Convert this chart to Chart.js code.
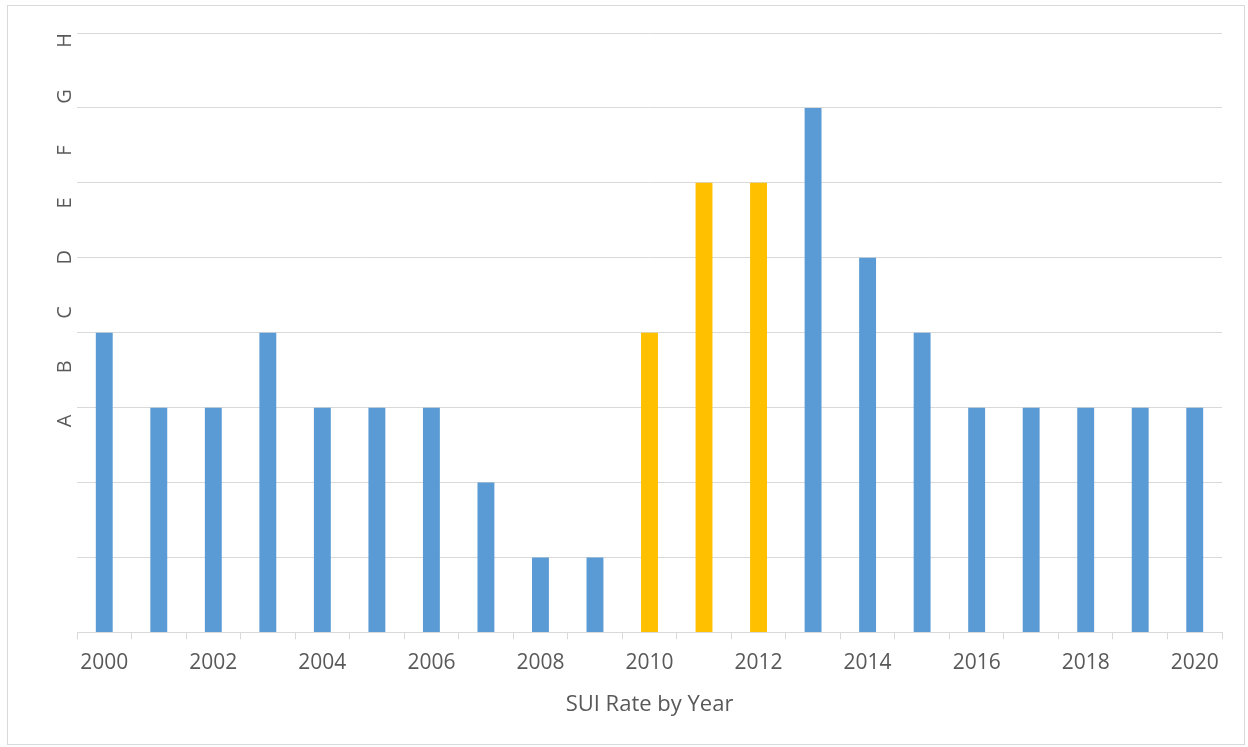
<!DOCTYPE html>
<html>
<head>
<meta charset="utf-8">
<script src="https://cdn.jsdelivr.net/npm/chart.js@4/dist/chart.umd.min.js"></script>
<style>
  html, body { margin: 0; padding: 0; background: #fff; }
  #wrap { position: relative; width: 1248px; height: 747px; }
  #frame { position: absolute; left: 7px; top: 5px; width: 1238px; height: 740px; border: 1px solid #d9d9d9; box-sizing: border-box; pointer-events: none; }
</style>
</head>
<body>
<div id="wrap">
  <canvas id="chart" width="1248" height="747"></canvas>
  <div id="frame"></div>
</div>
<script>
// years on the x axis
const years = ['2000', '2001', '2002', '2003', '2004', '2005', '2006', '2007', '2008', '2009', '2010',
  '2011', '2012', '2013', '2014', '2015', '2016', '2017', '2018', '2019', '2020'];
// rate level per year (grid steps)
const rates = [4, 3, 3, 4, 3, 3, 3, 2, 1, 1, 4, 6, 6, 7, 5, 4, 3, 3, 3, 3, 3];
// years highlighted in yellow
const highlightYears = ['2010', '2011', '2012'];
// letters written up the y axis
const gradeLetters = ['A', 'B', 'C', 'D', 'E', 'F', 'G', 'H'];

const blue = '#5b9bd5';
const yellow = '#ffc000';
const textColor = '#595959';
const gridColor = '#d9d9d9';

const barColors = years.map(y => highlightYears.includes(y) ? yellow : blue);

Chart.defaults.font.family = "'Open Sans', 'Noto Sans', sans-serif";
Chart.defaults.color = textColor;

new Chart(document.getElementById('chart').getContext('2d'), {
  type: 'bar',
  data: {
    labels: years,
    datasets: [{
      data: rates,
      backgroundColor: barColors,
      borderWidth: 0,
      categoryPercentage: 1,
      barPercentage: 0.31
    }]
  },
  options: {
    responsive: false,
    animation: false,
    layout: { padding: { left: 53, right: 26, top: 33, bottom: 29 } },
    plugins: {
      legend: { display: false },
      tooltip: { enabled: false }
    },
    scales: {
      x: {
        offset: true,
        grid: {
          offset: true,
          drawOnChartArea: false,
          drawTicks: true,
          tickLength: 7,
          color: gridColor,
          lineWidth: 1
        },
        border: { display: true, color: gridColor, width: 1 },
        ticks: {
          autoSkip: false,
          maxRotation: 0,
          padding: 11,
          font: { size: 21 },
          color: textColor,
          callback: function (val, i) { return i % 2 === 0 ? this.getLabelForValue(val) : ''; }
        },
        title: {
          display: true,
          text: 'SUI Rate by Year',
          font: { size: 22 },
          color: textColor,
          padding: { top: 5, bottom: 0 }
        }
      },
      y: {
        min: 0,
        max: 8,
        ticks: { display: false, stepSize: 1 },
        grid: { color: gridColor, lineWidth: 1, drawTicks: false },
        border: { display: false },
        title: {
          display: true,
          align: 'end',
          text: gradeLetters.join(' '.repeat(8)),
          font: { size: 20 },
          color: textColor,
          padding: { top: 0, bottom: 0 }
        }
      }
    }
  }
});
</script>
</body>
</html>
